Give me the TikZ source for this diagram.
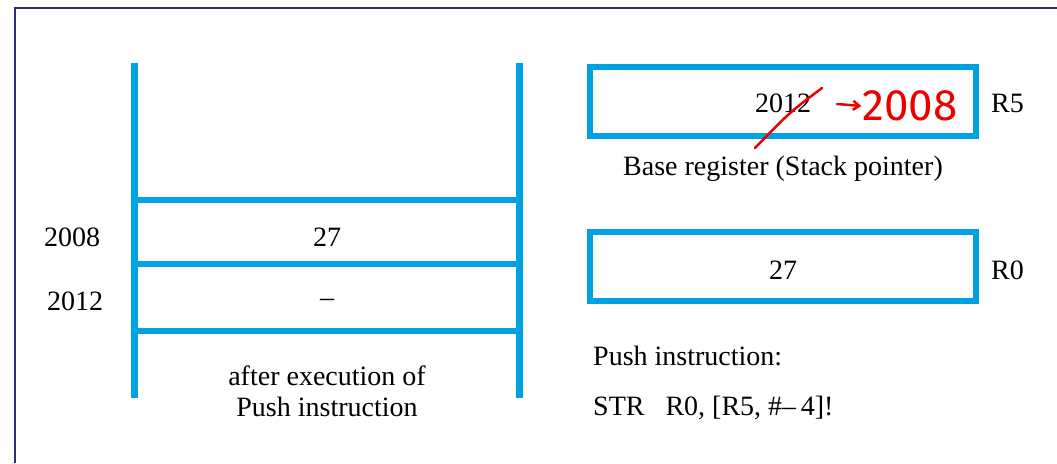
\documentclass[tikz,border=0pt]{standalone}
\usepackage{fontspec}
\setmainfont{Liberation Serif}
\newfontfamily\handfont{Fira Sans}
\usepackage{xcolor}
\usepackage{tikz}
\usetikzlibrary{positioning,arrows.meta}

\definecolor{stackblue}{RGB}{0,162,226}
\definecolor{framenavy}{RGB}{45,45,130}
\definecolor{penred}{RGB}{235,0,0}

\tikzset{
  txt/.style={font=\fontsize{28}{32}\selectfont, inner sep=3pt},
  reg/.style={txt, draw=stackblue, line width=6pt, minimum width=386pt, minimum height=69pt},
  bar/.style={draw=stackblue, line width=7pt},
  rung/.style={draw=stackblue, line width=6pt},
  pen/.style={draw=penred, line width=2.5pt, line cap=round},
}

\begin{document}
\begin{tikzpicture}[x=1pt, y=-1pt]
  \useasboundingbox (0,0) rectangle (1057,463);
  % frame
  \draw[framenavy, line width=2pt] (15,463) -- (15,8) -- (1057,8);

  % Define stack
  \coordinate (sl) at (134.5,63);
  \coordinate (sr) at (519.5,63);
  \draw[bar] (sl) -- (sl |- 0,398);
  \draw[bar] (sr) -- (sr |- 0,398);
  \foreach \y in {199.5,264,331}
    \draw[rung] (sl |- 0,\y) -- (sr |- 0,\y);
  \node[txt] (c8) at (327,237) {27};
  \node[txt] (c12) at (327,303) {--};
  \node[txt] (a8) at (72,237) {2008};
  \node[txt] (a12) at (75,301) {2012};
  \node[txt, align=center, font=\fontsize{28}{31}\selectfont] (cap) at (327,391)
    {after execution of\\Push instruction};

  % Define registers
  \node[reg, text height=22pt] (r5) at (783,101.5) {2012};
  \node[txt, right=9pt of r5, yshift=-2pt] (r5n) {R5};
  \node[txt, below=14pt of r5] (sp) {Base register (Stack pointer)};
  \node[reg, text height=26pt] (r0) at (783,266.5) {27};
  \node[txt, right=9pt of r0, yshift=-4pt] (r0n) {R0};

  % instruction
  \node[txt, anchor=west] (ins) at (590,356) {Push instruction:};
  \node[txt, anchor=west] (str) at (590,408) {STR\ \ \ R0, [R5, \#--\,4]!};

  % hand correction
  \draw[pen] (755,148) .. controls (790,112) .. (822,88);
  \node[text=penred, font=\handfont\fontsize{44}{50}\selectfont, inner sep=1pt] (new) at (910,106) {2008};
  \coordinate (arr) at (837,104);
  \draw[pen, -{Straight Barb[length=6pt,width=9pt]}] (arr) -- (new.west);
\end{tikzpicture}
\end{document}
